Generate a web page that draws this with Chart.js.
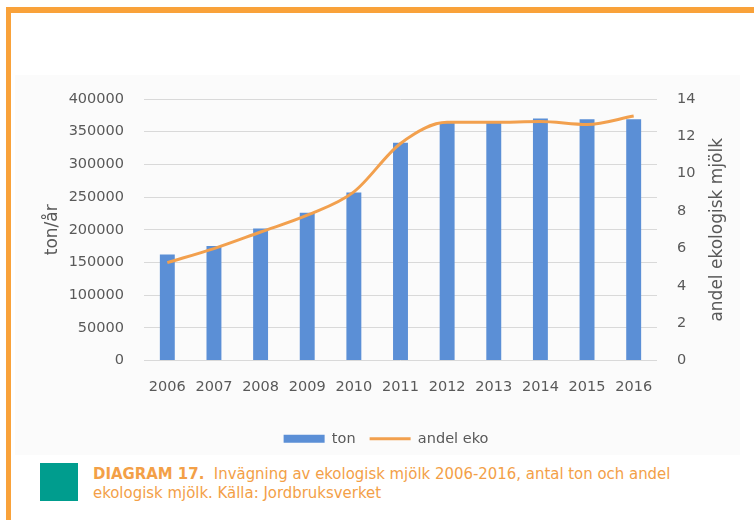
<!DOCTYPE html>
<html>
<head>
<meta charset="utf-8">
<script src="https://cdn.jsdelivr.net/npm/chart.js@4.4.1/dist/chart.umd.min.js"></script>
<style>
  html, body { margin: 0; padding: 0; background: #ffffff; }
  body { width: 754px; height: 520px; position: relative; overflow: hidden; }
  #borderTop { position: absolute; left: 6px; top: 7px; width: 748px; height: 6px; background: #f9a23a; }
  #borderLeft { position: absolute; left: 6px; top: 7px; width: 5px; height: 513px; background: #f9a23a; }
  #panel { position: absolute; left: 15px; top: 75px; width: 725px; height: 380px; background: #fbfbfb; }
  #wrap { position: absolute; left: 0; top: 0; width: 754px; height: 460px; }
  #square { position: absolute; left: 40px; top: 463px; width: 38px; height: 38px; background: #009d8e; }
  #caption { position: absolute; left: 93px; top: 464px; font-family: "Liberation Sans Narrow", "DejaVu Sans Condensed", "Roboto Condensed", "Liberation Sans", sans-serif; font-size: 16.6px; line-height: 19px; color: #f3a047; white-space: nowrap; }
  #caption b { font-weight: bold; }
</style>
</head>
<body>
<div id="borderTop"></div>
<div id="borderLeft"></div>
<div id="panel"></div>
<div id="wrap"><canvas id="c" width="754" height="460"></canvas></div>
<div id="square"></div>
<div id="caption"><b>DIAGRAM 17.</b>&nbsp; Invägning av ekologisk mjölk 2006-2016, antal ton och andel<br>ekologisk mjölk. Källa: Jordbruksverket</div>
<script>
const years = ['2006','2007','2008','2009','2010','2011','2012','2013','2014','2015','2016'];
const tonValues = [162000, 175000, 202000, 226000, 257000, 333000, 365000, 365000, 370000, 369000, 369000];
const andelEko = [5.24, 5.99, 6.88, 7.78, 9.03, 11.62, 12.75, 12.75, 12.8, 12.64, 13.09];
const seriesNames = ['ton', 'andel eko'];
const leftTitle = 'ton/år';
const rightTitle = 'andel ekologisk mjölk';

const tickFont = { family: 'DejaVu Sans', size: 14.5 };
const tickColor = '#595959';
const barColor = '#5b8fd6';
const lineColor = '#f2a04e';

const rightTitlePlugin = {
  id: 'rightTitlePlugin',
  afterDraw(chart) {
    const ctx = chart.ctx;
    const s = chart.scales.y1;
    const area = chart.chartArea;
    ctx.save();
    ctx.translate(s.left + 61, (area.top + area.bottom) / 2);
    ctx.rotate(-Math.PI / 2);
    ctx.font = '17px "DejaVu Sans"';
    ctx.fillStyle = tickColor;
    ctx.textAlign = 'center';
    ctx.textBaseline = 'middle';
    ctx.fillText(rightTitle, 0, 0);
    ctx.restore();
  }
};

new Chart(document.getElementById('c'), {
  type: 'bar',
  data: {
    labels: years,
    datasets: [
      {
        type: 'bar',
        label: seriesNames[0],
        data: tonValues,
        backgroundColor: barColor,
        borderWidth: 0,
        yAxisID: 'y',
        categoryPercentage: 1.0,
        barPercentage: 0.32,
        order: 2
      },
      {
        type: 'line',
        label: seriesNames[1],
        data: andelEko,
        borderColor: lineColor,
        backgroundColor: lineColor,
        borderWidth: 3,
        pointRadius: 0,
        cubicInterpolationMode: 'monotone',
        fill: false,
        yAxisID: 'y1',
        order: 1
      }
    ]
  },
  options: {
    responsive: false,
    animation: false,
    devicePixelRatio: 1,
    layout: { padding: { top: 99, left: 18, right: 0, bottom: 4 } },
    plugins: {
      tooltip: { enabled: false },
      legend: {
        position: 'bottom',
        labels: {
          font: tickFont,
          color: tickColor,
          usePointStyle: true,
          pointStyleWidth: 41,
          boxHeight: 8,
          padding: 14,
          sort: (a, b) => a.datasetIndex - b.datasetIndex,
          generateLabels(chart) {
            const items = Chart.defaults.plugins.legend.labels.generateLabels(chart);
            items.forEach(it => {
              if (it.datasetIndex === 0) {
                it.pointStyle = 'rect';
                it.lineWidth = 0;
                it.fillStyle = barColor;
              } else {
                it.pointStyle = 'line';
                it.lineWidth = 3;
                it.strokeStyle = lineColor;
              }
            });
            return items;
          }
        }
      }
    },
    scales: {
      x: {
        grid: { display: false },
        border: { display: false },
        ticks: { font: tickFont, color: tickColor, padding: 10, maxRotation: 0, autoSkip: false },
        afterFit(scale) { scale.height = 57; }
      },
      y: {
        position: 'left',
        min: 0,
        max: 400000,
        ticks: { stepSize: 50000, font: tickFont, color: tickColor, padding: 20, callback: v => String(v) },
        grid: { color: '#d9d9d9', lineWidth: 1, drawTicks: false },
        border: { display: false },
        title: { display: true, text: leftTitle, font: { family: 'DejaVu Sans', size: 17 }, color: tickColor, padding: { top: 24, bottom: 0 } },
        afterFit(scale) { scale.width = 126; }
      },
      y1: {
        position: 'right',
        min: 0,
        max: 14,
        ticks: { stepSize: 2, font: tickFont, color: tickColor, padding: 20, callback: v => String(v) },
        grid: { display: false, drawTicks: false },
        border: { display: false },
        afterFit(scale) { scale.width = 97; }
      }
    }
  },
  plugins: [rightTitlePlugin]
});
</script>
</body>
</html>
